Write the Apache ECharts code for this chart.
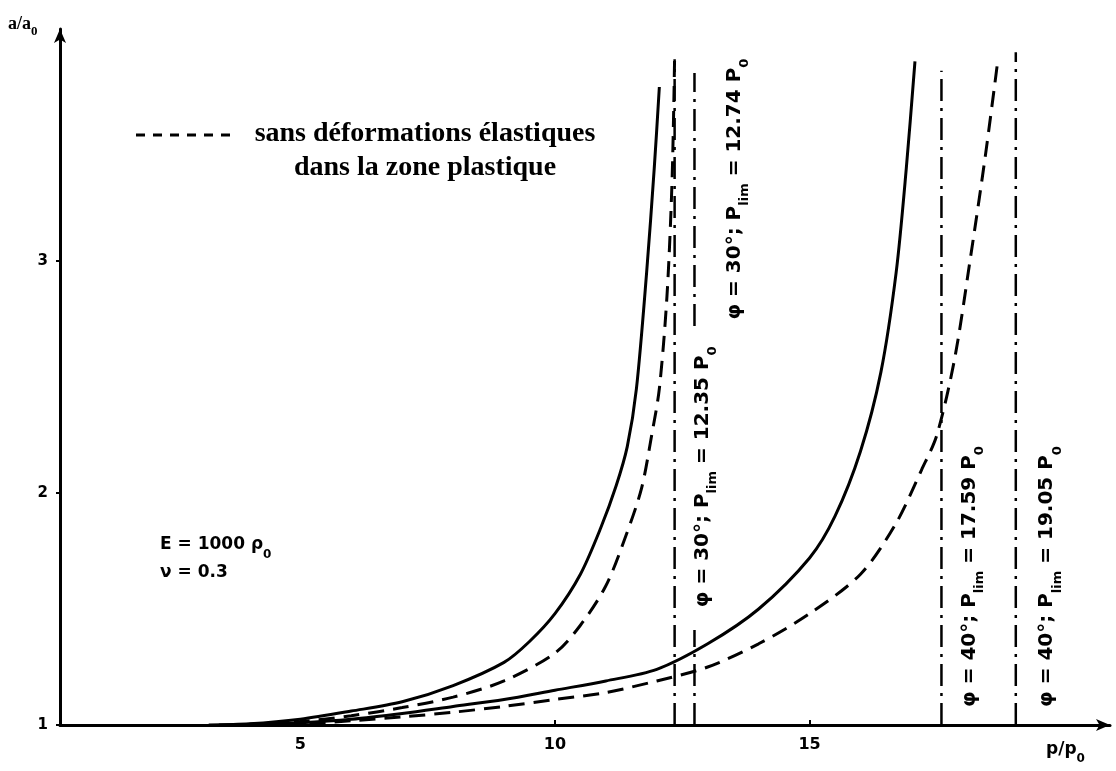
<!DOCTYPE html>
<html><head><meta charset="utf-8">
<script src="https://cdn.jsdelivr.net/npm/echarts@6/dist/echarts.min.js"></script>
<style>html,body{margin:0;padding:0;background:#fff}#c{width:1116px;height:771px}</style>
</head><body><div id="c"></div>
<script>
// ---- data ----
const xTicks = [5, 10, 15];
const yTicks = [1, 2, 3];
// phi = 30 deg, with elastic deformations (solid)
const solid30 = [[3.2,1.0],[4,1.005],[5,1.025],[6,1.06],[7,1.1],[8,1.17],[9,1.27],[9.5,1.36],[10,1.48],[10.5,1.65],[10.9,1.85],[11.2,2.03],[11.42,2.2],[11.6,2.45],[11.8,2.95],[11.95,3.4],[12.05,3.75]];
// phi = 30 deg, without elastic deformations in plastic zone (dashed)
const dashed30 = [[3.4,1.0],[4,1.003],[5,1.015],[6,1.04],[7,1.075],[8,1.12],[9,1.19],[10,1.31],[10.5,1.43],[11,1.6],[11.4,1.82],[11.7,2.02],[11.9,2.25],[12.05,2.45],[12.2,2.85],[12.3,3.35],[12.35,3.88]];
// phi = 40 deg, solid
const solid40 = [[3.8,1.0],[5,1.01],[6,1.025],[7,1.05],[8,1.08],[9,1.11],[10,1.15],[11,1.19],[12,1.24],[13,1.35],[14,1.5],[15,1.72],[15.5,1.9],[16,2.18],[16.4,2.52],[16.7,2.95],[16.9,3.4],[17.07,3.86]];
// phi = 40 deg, dashed
const dashed40 = [[4.2,1.0],[5,1.005],[6,1.018],[7,1.035],[8,1.055],[9,1.08],[10,1.11],[11,1.14],[12,1.19],[13,1.25],[14,1.35],[15,1.48],[16,1.65],[16.7,1.87],[17.2,2.1],[17.5,2.25],[17.85,2.58],[18.15,3.0],[18.45,3.45],[18.7,3.87]];
// limit pressures (dash-dot verticals)
const limits = [12.35, 12.74, 17.59, 19.05];
const limitTops = [3.87, 3.81, 3.82, 3.9];
// vertical span where a line is interrupted (to leave room for a neighbouring label); null = continuous
const limitGaps = [null, [1.41, 2.72], null, null];
const limitPhi = ['30', '30', '40', '40'];
const limitLabelY = [2.07, 3.31, 1.64, 1.64];
// ---------------------------------------

const chart = echarts.init(document.getElementById('c'), null, {renderer: 'canvas'});
const black = '#000';
const curve = (data, dashed) => ({
  type: 'line', data: data, smooth: 0.3, symbol: 'none', silent: true,
  lineStyle: {color: black, width: 3, type: dashed ? [16, 9] : 'solid'}
});
const series = [curve(solid30, false), curve(dashed30, true), curve(solid40, false), curve(dashed40, true)];
const dashDot = {color: black, width: 2.5, type: [22, 7, 3, 7]};
limits.forEach((v, i) => {
  const g = limitGaps[i];
  const segs = g ? [[1, g[0]], [g[1], limitTops[i]]] : [[1, limitTops[i]]];
  segs.forEach(s => {
    series.push({
      type: 'line', data: [[v, s[0]], [v, s[1]]], symbol: 'none', silent: true, lineStyle: dashDot
    });
  });
});

chart.setOption({
  animation: false,
  backgroundColor: '#fff',
  grid: {left: 60, right: 6, top: 29, bottom: 46},
  xAxis: {
    type: 'value', min: 0.28, max: 20.9,
    axisLine: {show: true, lineStyle: {color: black, width: 3}, symbol: ['none', 'arrow'], symbolSize: [9, 14]},
    splitLine: {show: false},
    axisTick: {show: true, customValues: xTicks, inside: true, length: 5, lineStyle: {color: black, width: 2}},
    axisLabel: {customValues: xTicks, color: black, fontFamily: 'DejaVu Sans', fontWeight: 'bold', fontSize: 16, margin: 12}
  },
  yAxis: {
    type: 'value', min: 1, max: 4,
    axisLine: {show: true, lineStyle: {color: black, width: 3}, symbol: ['none', 'arrow'], symbolSize: [9, 14]},
    splitLine: {show: false},
    axisTick: {show: true, customValues: yTicks, inside: false, length: 4, lineStyle: {color: black, width: 2}},
    axisLabel: {customValues: yTicks, color: black, fontFamily: 'DejaVu Sans', fontWeight: 'bold', fontSize: 15, margin: 12}
  },
  series: series
});

const px = (x, y) => chart.convertToPixel({gridIndex: 0}, [x, y]);
const sans = 'DejaVu Sans';
const serif = 'Liberation Serif';
const graphics = [];

// vertical limit labels
const offsets = [28, 40, 28, 31];
limits.forEach((v, i) => {
  const p = px(v, limitLabelY[i]);
  graphics.push({
    type: 'text', x: p[0] + offsets[i], y: p[1], rotation: Math.PI / 2, silent: true,
    style: {
      text: '{n|\u03c6 = ' + limitPhi[i] + '\u00b0; P}{s|lim}{n| = ' + v.toFixed(2) + ' P}{s|0}',
      align: 'center', verticalAlign: 'middle', textAlign: 'center', textVerticalAlign: 'middle',
      rich: {
        n: {fontFamily: sans, fontWeight: 'bold', fontSize: 20, fill: black, lineHeight: 24, verticalAlign: 'middle'},
        s: {fontFamily: sans, fontWeight: 'bold', fontSize: 13, fill: black, lineHeight: 34, verticalAlign: 'bottom'}
      }
    }
  });
});

// axis names
graphics.push({
  type: 'text', x: 8, y: 24, silent: true,
  style: {
    text: '{n|a/a}{s|0}', align: 'left', verticalAlign: 'middle', textAlign: 'left', textVerticalAlign: 'middle',
    rich: {
      n: {fontFamily: serif, fontWeight: 'bold', fontSize: 18, fill: black, lineHeight: 20, verticalAlign: 'middle'},
      s: {fontFamily: serif, fontWeight: 'bold', fontSize: 13, fill: black, lineHeight: 28, verticalAlign: 'bottom'}
    }
  }
});
graphics.push({
  type: 'text', x: 1046, y: 750, silent: true,
  style: {
    text: '{n|p/p}{s|0}', align: 'left', verticalAlign: 'middle', textAlign: 'left', textVerticalAlign: 'middle',
    rich: {
      n: {fontFamily: sans, fontWeight: 'bold', fontSize: 17, fill: black, lineHeight: 20, verticalAlign: 'middle'},
      s: {fontFamily: sans, fontWeight: 'bold', fontSize: 12, fill: black, lineHeight: 30, verticalAlign: 'bottom'}
    }
  }
});

// legend (dashed sample + centred two-line text)
graphics.push({
  type: 'line', silent: true,
  shape: {x1: 136, y1: 135, x2: 236, y2: 135},
  style: {stroke: black, lineWidth: 3, lineDash: [9, 8]}
});
graphics.push({
  type: 'text', x: 425, y: 134, silent: true,
  style: {text: 'sans déformations élastiques', fontFamily: serif, fontWeight: 'bold', fontSize: 28, fill: black,
    align: 'center', verticalAlign: 'middle', textAlign: 'center', textVerticalAlign: 'middle'}
});
graphics.push({
  type: 'text', x: 425, y: 168, silent: true,
  style: {text: 'dans la zone plastique', fontFamily: serif, fontWeight: 'bold', fontSize: 28, fill: black,
    align: 'center', verticalAlign: 'middle', textAlign: 'center', textVerticalAlign: 'middle'}
});

// material parameters
graphics.push({
  type: 'text', x: 160, y: 557, silent: true,
  style: {
    text: '{n|E = 1000 \u03c1}{s|0}\n{n|\u03bd = 0.3}', align: 'left', verticalAlign: 'middle', textAlign: 'left', textVerticalAlign: 'middle',
    rich: {
      n: {fontFamily: sans, fontWeight: 'bold', fontSize: 17, fill: black, lineHeight: 24, verticalAlign: 'middle'},
      s: {fontFamily: sans, fontWeight: 'bold', fontSize: 12, fill: black, lineHeight: 32, verticalAlign: 'bottom'}
    }
  }
});

chart.setOption({graphic: graphics});
</script>
</body></html>
